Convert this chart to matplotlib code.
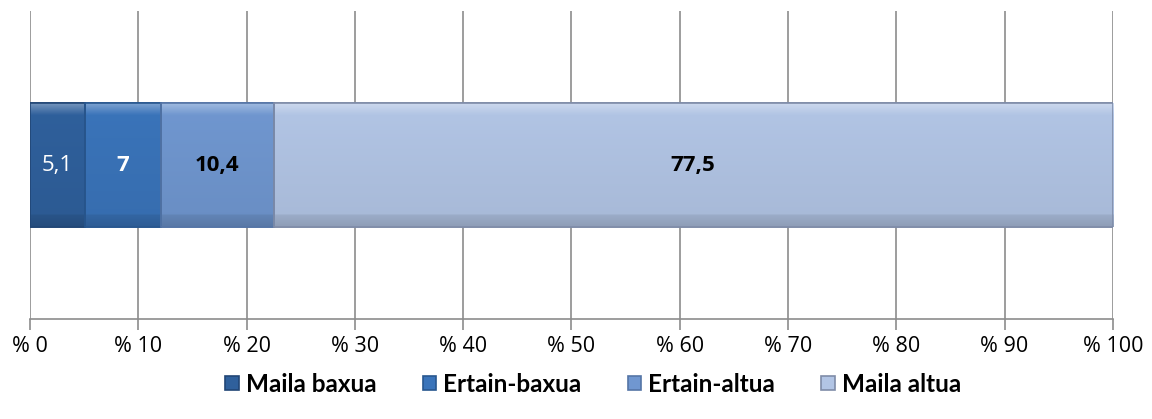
import matplotlib.pyplot as plt
import matplotlib.colors as mcolors
import numpy as np

# data
categories = ['Maila baxua', 'Ertain-baxua', 'Ertain-altua', 'Maila altua']
values = [5.1, 7, 10.4, 77.5]
labels = ['5,1', '7', '10,4', '77,5']
colors = ['#2F609C', '#3A74BA', '#7097D0', '#B2C5E5']
edge_colors = ['#214676', '#28578F', '#5575A6', '#7F8CA8']
text_colors = ['white', 'white', 'black', 'black']
text_weights = ['normal', 'bold', 'bold', 'bold']
ticks = np.arange(0, 101, 10)

plt.rcParams['font.family'] = ['Open Sans', 'DejaVu Sans']

fig = plt.figure(figsize=(11.52, 4.19), dpi=100)
ax = fig.add_axes([0.026, 0.2387, 0.94, 0.735])

bar_h = 0.405
left = 0
handles = []
for i in range(len(values)):
    b = ax.barh(0, values[i], left=left, height=bar_h, color=colors[i],
                edgecolor=edge_colors[i], linewidth=1.2, zorder=3, label=categories[i])
    handles.append(b)
    # bevel look: lighter strip on top, darker towards the bottom
    base = np.array(mcolors.to_rgb(colors[i]))
    t = np.linspace(0, 1, 80)[:, None]
    light = np.where(t < 0.1, 0.35 * (1 - t / 0.1), 0.0)
    dark = np.where(t > 0.9, 0.12 + 0.08 * (t - 0.9) / 0.1, 0.06 * t)
    grad = base + (1 - base) * light[:, :, None] - base * dark[:, :, None]
    grad = np.clip(grad, 0, 1)
    im = ax.imshow(grad, extent=[left, left + values[i], -bar_h / 2, bar_h / 2],
                   origin='upper', aspect='auto', zorder=3.5, interpolation='bilinear')
    im.set_clip_path(b.patches[0])
    ax.barh(0, values[i], left=left, height=bar_h, color='none',
            edgecolor=edge_colors[i], linewidth=1.2, zorder=3.6)
    ax.text(left + values[i] / 2, 0, labels[i], ha='center', va='center',
            color=text_colors[i], fontweight=text_weights[i], fontsize=16,
            family='Open Sans', zorder=4)
    left += values[i]

ax.set_xlim(0, 100)
ax.set_ylim(-0.5, 0.5)
ax.set_xticks(ticks)
ax.set_xticklabels(['% ' + str(t) for t in ticks], fontsize=15.5)
ax.set_yticks([])
ax.grid(axis='x', color='#8C8C8C', linewidth=1.2, zorder=0)
for s in ['top', 'right', 'left']:
    ax.spines[s].set_visible(False)
ax.spines['bottom'].set_color('#8C8C8C')
ax.spines['bottom'].set_linewidth(1.2)
ax.tick_params(axis='x', length=8, color='#8C8C8C', width=1.2, pad=4)

fig.legend(handles=handles, loc='center', bbox_to_anchor=(0.515, 0.083), ncol=4,
           frameon=False,
           prop={'family': 'Lato', 'weight': 'bold', 'size': 17.5},
           handlelength=0.55, handleheight=0.55, handletextpad=0.3, columnspacing=1.9)

plt.savefig('out.png', dpi=100)
